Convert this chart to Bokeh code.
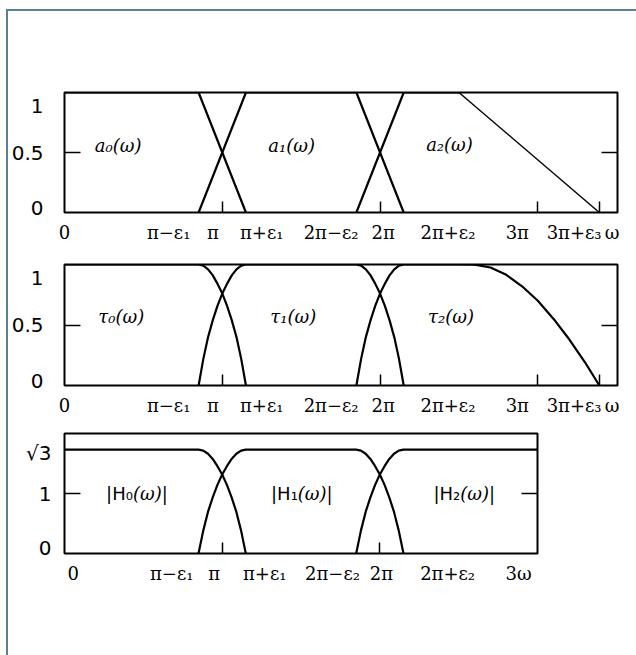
import numpy as np
from bokeh.plotting import figure
from bokeh.layouts import column
from bokeh.models import FixedTicker, LinearAxis, Range1d
from bokeh.core.properties import value
from bokeh.embed import file_html
from bokeh.resources import INLINE

# All frequencies are expressed in units of pi.
EPS1 = 0.15
EPS2 = 0.15
EPS3 = 0.39
A2_KNEE = 2.5          # a2 stays at 1 up to here, then falls linearly to 3pi+eps3

# Shape of one smooth band edge (0 -> 1) over the normalised edge width
EDGE_T = [0.0, 0.1, 0.2, 0.3, 0.4, 0.5, 0.6, 0.7, 0.8, 0.9, 1.0]
EDGE_V = [0.0, 0.22, 0.40, 0.54, 0.66, 0.76, 0.84, 0.91, 0.96, 0.99, 1.0]

# Roll-off of tau2 towards 3pi+eps3
TAIL_X = [2.50, 2.60, 2.70, 2.80, 2.90, 3.00, 3.10, 3.20, 3.30, 3.39]
TAIL_V = [1.0, 0.998, 0.975, 0.915, 0.82, 0.70, 0.55, 0.38, 0.19, 0.0]

ROOT3 = float(np.sqrt(3.0))

# Tick labels (text and where each one sits, in units of pi)
X_LABELS = ["0", "π−ε₁", "π", "π+ε₁", "2π−ε₂", "2π", "2π+ε₂", "3π", "3π+ε₃", "ω"]
X_LABEL_AT = [0.0, 0.66, 0.94, 1.25, 1.69, 2.02, 2.43, 2.87, 3.23, 3.47]
X_TICKS = [1.0, 2.0, 3.0, 3.0 + EPS3]

X_LABELS_H = ["0", "π−ε₁", "π", "π+ε₁", "2π−ε₂", "2π", "2π+ε₂", "3ω"]
X_LABEL_AT_H = [0.055, 0.68, 0.95, 1.27, 1.70, 2.01, 2.43, 2.88]
X_TICKS_H = [1.0, 2.0]

Y_LABELS = ["0", "0.5", "1"]
Y_LABEL_AT = [0.04, 0.5, 0.885]
Y_TICKS = [0.5]

Y_LABELS_H = ["0", "1", "√3"]
Y_LABEL_AT_H = [0.1, 1.0, 1.68]
Y_TICKS_H = [1.0]

SERIF = "DejaVu Serif"
SANS = "DejaVu Sans"


def edge_up(a, b):
    return [a + (b - a) * t for t in EDGE_T], list(EDGE_V)


def edge_down(a, b):
    xs = [b - (b - a) * t for t in EDGE_T][::-1]
    return xs, list(EDGE_V)[::-1]


def join(*parts):
    xs, ys = [], []
    for px, py in parts:
        xs += list(px)
        ys += list(py)
    return xs, ys


def scale(curve, k):
    return curve[0], [k * v for v in curve[1]]


def panel(x_end, y_end, frame_w, frame_h, top, bottom, right,
          xlabels, xlabel_at, xticks, ylabels, ylabel_at, yticks, ystandoff):
    p = figure(frame_width=frame_w, frame_height=frame_h,
               x_range=Range1d(0, x_end), y_range=Range1d(0, y_end),
               x_axis_type=None, y_axis_type=None,
               output_backend="svg", toolbar_location=None,
               min_border_left=55, min_border_right=right,
               min_border_top=top, min_border_bottom=bottom,
               background_fill_color="white", border_fill_color="white")
    p.outline_line_color = "black"
    p.outline_line_width = 2

    xa = LinearAxis(ticker=FixedTicker(ticks=xlabel_at, minor_ticks=xticks),
                    major_label_overrides=dict(zip(xlabel_at, xlabels)))
    xa.axis_line_color = None
    xa.major_tick_line_color = None
    xa.major_tick_in = 0
    xa.major_tick_out = 0
    xa.minor_tick_in = 11
    xa.minor_tick_out = 0
    xa.minor_tick_line_color = "black"
    xa.minor_tick_line_width = 1.5
    xa.major_label_standoff = 9
    xa.major_label_text_font = SERIF
    xa.major_label_text_font_size = "18px"
    xa.major_label_text_color = "black"
    p.add_layout(xa, "below")

    ya = LinearAxis(ticker=FixedTicker(ticks=ylabel_at, minor_ticks=yticks),
                    major_label_overrides=dict(zip(ylabel_at, ylabels)))
    ya.axis_line_color = None
    ya.major_tick_line_color = None
    ya.major_tick_in = 0
    ya.major_tick_out = 0
    ya.minor_tick_in = 16
    ya.minor_tick_out = 0
    ya.minor_tick_line_color = "black"
    ya.minor_tick_line_width = 1.5
    ya.major_label_standoff = ystandoff
    ya.major_label_text_font = SANS
    ya.major_label_text_font_size = "20px"
    ya.major_label_text_color = "black"
    p.add_layout(ya, "left")

    yr = LinearAxis(ticker=FixedTicker(ticks=[], minor_ticks=yticks))
    yr.axis_line_color = None
    yr.major_tick_line_color = None
    yr.minor_tick_in = 16
    yr.minor_tick_out = 0
    yr.minor_tick_line_color = "black"
    yr.minor_tick_line_width = 1.5
    yr.major_label_text_font_size = "0px"
    yr.major_label_standoff = 0
    p.add_layout(yr, "right")
    return p


def curve(p, c, width=2.2):
    p.line(c[0], c[1], line_color="black", line_width=width)


def italic_label(p, x, y, text):
    p.text(x=[x], y=[y], text=[text], text_font=value(SERIF),
           text_font_style="italic", text_font_size="18px",
           text_align="center", text_baseline="middle", text_color="black")


# ---------- a_k(omega): piecewise linear windows ----------
p1 = panel(3.505, 1.0, 553, 120, 81, 40, 20,
           X_LABELS, X_LABEL_AT, X_TICKS, Y_LABELS, Y_LABEL_AT, Y_TICKS, 21)

a0 = ([0.0, 1 - EPS1, 1 + EPS1], [1.0, 1.0, 0.0])
a1 = ([1 - EPS1, 1 + EPS1, 2 - EPS2, 2 + EPS2], [0.0, 1.0, 1.0, 0.0])
a2_rise = ([2 - EPS2, 2 + EPS2, A2_KNEE], [0.0, 1.0, 1.0])
a2_tail = ([A2_KNEE, 3 + EPS3], [1.0, 0.0])
for c in (a0, a1, a2_rise):
    curve(p1, c)
curve(p1, a2_tail, 1.4)

italic_label(p1, 0.34, 0.56, "a₀(ω)")
italic_label(p1, 1.44, 0.56, "a₁(ω)")
italic_label(p1, 2.44, 0.57, "a₂(ω)")

# ---------- tau_k(omega): smooth windows ----------
p2 = panel(3.505, 1.0, 553, 121, 12, 40, 20,
           X_LABELS, X_LABEL_AT, X_TICKS, Y_LABELS, Y_LABEL_AT, Y_TICKS, 21)

t0 = join(([0.0], [1.0]), edge_down(1 - EPS1, 1 + EPS1))
t1 = join(edge_up(1 - EPS1, 1 + EPS1), edge_down(2 - EPS2, 2 + EPS2))
t2 = join(edge_up(2 - EPS2, 2 + EPS2), (TAIL_X, TAIL_V))
for c in (t0, t1, t2):
    curve(p2, c)

italic_label(p2, 0.36, 0.57, "τ₀(ω)")
italic_label(p2, 1.45, 0.57, "τ₁(ω)")
italic_label(p2, 2.45, 0.57, "τ₂(ω)")

# ---------- |H_k(omega)|: filter magnitudes ----------
p3 = panel(3.0, 2.0, 473, 120, 8, 102, 100,
           X_LABELS_H, X_LABEL_AT_H, X_TICKS_H, Y_LABELS_H, Y_LABEL_AT_H, Y_TICKS_H, 13)

h0 = scale(t0, ROOT3)
h1 = scale(t1, ROOT3)
h2 = scale(join(edge_up(2 - EPS2, 2 + EPS2), ([3.0], [1.0])), ROOT3)
for c in (h0, h1, h2):
    curve(p3, c)

for x, k in ((0.434, "0"), (1.48, "1"), (2.51, "2")):
    p3.text(x=[x], y=[1.0], text=["|H" + "₀₁₂"[int(k)]], text_font=value(SANS),
            text_font_size="18px", text_align="right", text_baseline="middle",
            text_color="black")
    p3.text(x=[x], y=[1.0], text=["(ω)|"], text_font=value(SERIF),
            text_font_style="italic", text_font_size="18px", text_align="left",
            text_baseline="middle", text_color="black")

layout = column(p1, p2, p3, styles={
    "border-left": "2px solid #5b7f94",
    "border-top": "2px solid #5b7f94",
    "margin-left": "6px",
    "margin-top": "9px",
    "background-color": "white",
})

open("out.html", "w").write(file_html(layout, INLINE))
